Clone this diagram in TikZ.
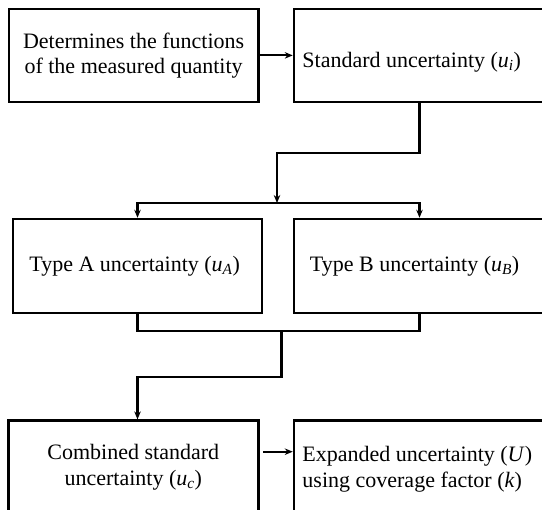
\documentclass[tikz,border=0pt]{standalone}
\usepackage{fontspec}
\setmainfont{Liberation Serif}
\usetikzlibrary{arrows.meta}

\tikzset{
  box/.style={draw,line width=2.5pt,minimum width=250pt,minimum height=93pt,inner sep=0pt},
  lbl/.style={inner sep=0pt,font=\fontsize{22}{25.5}\selectfont},
  wire/.style={line width=2.2pt},
  arr/.style={wire,-{Stealth[length=8pt,width=6.5pt]}}
}
\newcommand{\usub}[1]{(\textit{u}\textsubscript{\textit{#1}})}

\begin{document}
\begin{tikzpicture}[x=1pt,y=-1pt]
\useasboundingbox (0,0) rectangle (542,510);
\clip (0,0) rectangle (542,510);
\path
    (133.6,55.4) node [box,minimum width=249.3pt] (det) {}
    (419.5,55.4) node [box,minimum width=251pt] (std) {}
    (137.5,266) node [box,minimum width=249pt,minimum height=94pt] (typeA) {}
    (419.5,266) node [box,minimum width=251pt,minimum height=94pt] (typeB) {}
    (133.3,467.2) node [box] (comb) {}
    (419.5,467.2) node [box,minimum width=251pt] (exp) {};
\path
    (det) node [lbl,align=center] (dettxt)
        {Determines the functions\\of the measured quantity}
    ([shift={(9.5,6.5)}]std.west) node [lbl,anchor=west] (stdtxt)
        {Standard uncertainty \usub{i}}
    ([shift={(17.4,0)}]typeA.west) node [lbl,anchor=west] (typeAtxt)
        {Type A uncertainty \usub{A}}
    ([shift={(17,0)}]typeB.west) node [lbl,anchor=west] (typeBtxt)
        {Type B uncertainty \usub{B}}
    (comb) node [lbl,align=center] (combtxt)
        {Combined standard\\uncertainty \usub{c}}
    ([shift={(9.5,2)}]exp.west) node [lbl,anchor=west,align=left] (exptxt)
        {Expanded uncertainty (\textit{U})\\using coverage factor (\textit{k})};
% helper points for the elbows
\coordinate (upper) at (0,153);
\coordinate (split) at (277,203);
\coordinate (join) at (281.5,331);
\coordinate (bend) at (137.5,377);
\draw [arr] (det) -- (std);
\draw [arr] (std.south) |- (split |- upper) -- (split);
\draw [arr] (split) -| (typeA.north);
\draw [arr] (split) -| (typeB.north);
\draw [wire] (typeA.south) |- (join) -| (typeB.south);
\draw [arr] (join) |- (bend) -- (bend |- comb.north);
\draw [arr] ([shift={(3.5,-15.5)}]comb.east) -- ([shift={(0,-15.5)}]exp.west);
\end{tikzpicture}
\end{document}
